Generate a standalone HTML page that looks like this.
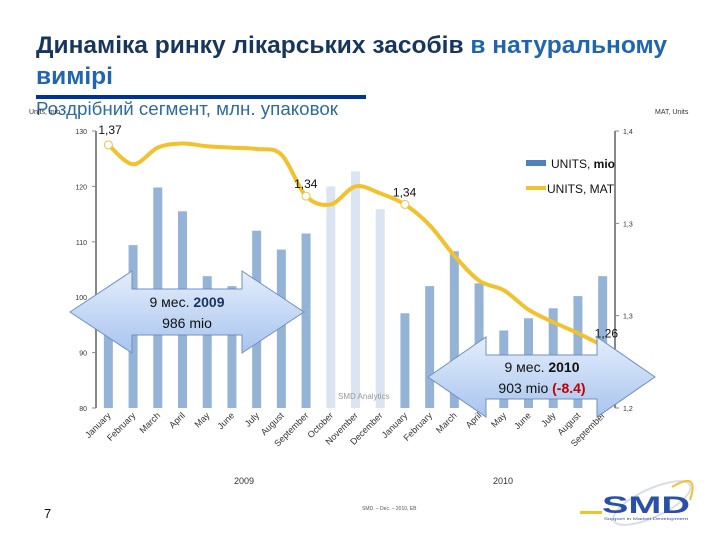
<!DOCTYPE html>
<html><head><meta charset="utf-8"><style>
body{margin:0;background:#fff;}
svg{display:block;font-family:"Liberation Sans","DejaVu Sans",sans-serif;}
</style></head><body>
<svg id="chart" width="720" height="540" viewBox="0 0 720 540">
<defs>
<linearGradient id="ag" x1="0" y1="0" x2="0" y2="1"><stop offset="0" stop-color="#e4eefc"/><stop offset="1" stop-color="#a8c4ee"/></linearGradient>
</defs>
<text x="36" y="53" font-size="24" font-weight="bold" fill="#17365d" textLength="631" lengthAdjust="spacingAndGlyphs">Динаміка ринку лікарських засобів <tspan fill="#1f65b0">в натуральному</tspan></text>
<text x="36" y="84" font-size="24" font-weight="bold" fill="#1f65b0" textLength="77" lengthAdjust="spacingAndGlyphs">вимірі</text>
<rect x="36" y="95" width="330" height="4" fill="#003399"/>
<text x="36" y="115" font-size="18" fill="#2e6c9c" textLength="302" lengthAdjust="spacingAndGlyphs">Роздрібний сегмент, млн. упаковок</text>
<text x="29" y="114" font-size="7" fill="#333">Units, mio</text>
<text x="655" y="114" font-size="7" fill="#333">MAT, Units</text>
<g id="plot"></g>
<text x="338" y="399" font-size="8" fill="#999">SMD Analytics</text>
<g>
<path d="M70,312 L132,271 L132,289 L242,289 L242,271 L304,312 L242,353 L242,335 L132,335 L132,353 Z" fill="url(#ag)" stroke="#6f8fc4" stroke-width="1"/>
<text x="187" y="307" font-size="14" text-anchor="middle" fill="#111">9 мес. <tspan font-weight="bold" fill="#17365d">2009</tspan></text>
<text x="187" y="328" font-size="14" text-anchor="middle" fill="#111">986 mio</text>
</g>
<g>
<path d="M428,377 L486,337 L486,355 L597,355 L597,337 L655,377 L597,417 L597,399 L486,399 L486,417 Z" fill="url(#ag)" stroke="#6f8fc4" stroke-width="1"/>
<text x="542" y="372" font-size="14" text-anchor="middle" fill="#111">9 мес. <tspan font-weight="bold">2010</tspan></text>
<text x="542" y="393" font-size="14" text-anchor="middle" fill="#111">903 mio <tspan font-weight="bold" fill="#c00000">(-8.4)</tspan></text>
</g>
<g>
<rect x="526" y="160" width="20" height="6" fill="#4f81bd"/>
<text x="551" y="168" font-size="12" fill="#111">UNITS, <tspan font-weight="bold">mio</tspan></text>
<rect x="526" y="186" width="20" height="4" fill="#f2c12e"/>
<text x="547" y="193" font-size="12" fill="#111">UNITS, MAT</text>
</g>
<text x="244" y="484" font-size="9" text-anchor="middle" fill="#333">2009</text>
<text x="503" y="484" font-size="9" text-anchor="middle" fill="#333">2010</text>
<text x="362" y="510" font-size="5" fill="#555">SMD. – Dec. – 2010, EB</text>
<text x="44" y="518" font-size="13" fill="#111">7</text>
<g>
<rect x="580" y="511" width="22" height="3" fill="#f2c12e"/>
<ellipse cx="652" cy="503" rx="42" ry="14" fill="none" stroke="#d8dde8" stroke-width="2" transform="rotate(-25 652 503)"/>
<path d="M672,487 Q700,470 690,500" fill="none" stroke="#f2c12e" stroke-width="2"/>
<text x="602" y="513" font-size="24" font-weight="bold" fill="#2a4fa6" textLength="88" lengthAdjust="spacingAndGlyphs">SMD</text>
<text x="604" y="520" font-size="4" fill="#2a4fa6" textLength="84" lengthAdjust="spacingAndGlyphs">Support in Market Development</text>
</g>
</svg>
<script>
const months = ["January","February","March","April","May","June","July","August","September","October","November","December","January","February","March","April","May","June","July","August","September"];
const unitsMio = [98,109.4,119.8,115.5,103.8,102,112,108.6,111.5,120,122.7,115.9,97.1,102,108.3,102.5,94,96.2,98,100.2,103.8];
const unitsMat = [1.390,1.376,1.388,1.391,1.389,1.388,1.387,1.383,1.353,1.347,1.360,1.355,1.347,1.332,1.310,1.292,1.285,1.271,1.262,1.254,1.245];
const leftTicks = [80,90,100,110,120,130];
const rightTicks = [1.2,1.2667,1.3333,1.4];
const rightTickLabels = ["1,2","1,3","1,3","1,4"];
const matLabelIdx = [0,8,12,20];
const matLabels = ["1,37","1,34","1,34","1,26"];

const NS="http://www.w3.org/2000/svg";
const g=document.getElementById('plot');
const X0=96,X1=615,YT=131,YB=408;
const step=(X1-X0)/months.length;
const xc=i=>X0+step*(i+0.5);
const yL=v=>YB-(v-80)/(130-80)*(YB-YT);
const yR=v=>YB-(v-1.2)/(1.4-1.2)*(YB-YT);
function mk(t,a){const e=document.createElementNS(NS,t);for(const k in a)e.setAttribute(k,a[k]);g.appendChild(e);return e;}

unitsMio.forEach((v,i)=>{
  const b=mk('rect',{x:xc(i)-4.5,y:yL(v),width:9,height:YB-yL(v),fill:(i>=9&&i<=11)?'#dbe4f1':'#95b3d7'});
  
  
});
let ax=mk('line',{x1:X0,y1:YT,x2:X0,y2:YB,stroke:'#888','stroke-width':2});


let ax2=mk('line',{x1:X1,y1:YT,x2:X1,y2:YB,stroke:'#888','stroke-width':2});


leftTicks.forEach(v=>{
  mk('line',{x1:X0-4,y1:yL(v),x2:X0,y2:yL(v),stroke:'#888'});
  const t=mk('text',{x:X0-9,y:yL(v)+3,'font-size':7,'text-anchor':'end',fill:'#333'});
  t.textContent=v;
  
  
});
rightTicks.forEach((v,i)=>{
  mk('line',{x1:X1,y1:yR(v),x2:X1+4,y2:yR(v),stroke:'#888'});
  const t=mk('text',{x:X1+8,y:yR(v)+3,'font-size':7,fill:'#333'});
  t.textContent=rightTickLabels[i];
  
  
});
months.forEach((m,i)=>{
  const x=xc(i)+3,y=YB+8;
  const t=mk('text',{x:x,y:y,'font-size':9,'text-anchor':'end',fill:'#333',transform:`rotate(-45 ${x} ${y})`});
  t.textContent=m;
  
  
});
const pts=unitsMat.map((v,i)=>[xc(i),yR(v)]);
let d=`M${pts[0][0]},${pts[0][1]}`;
for(let i=0;i<pts.length-1;i++){
  const p0=pts[Math.max(0,i-1)],p1=pts[i],p2=pts[i+1],p3=pts[Math.min(pts.length-1,i+2)];
  const c1=[p1[0]+(p2[0]-p0[0])/6,p1[1]+(p2[1]-p0[1])/6],c2=[p2[0]-(p3[0]-p1[0])/6,p2[1]-(p3[1]-p1[1])/6];
  d+=` C${c1[0]},${c1[1]} ${c2[0]},${c2[1]} ${p2[0]},${p2[1]}`;
}
const ln=mk('path',{d:d,fill:'none',stroke:'#f2c12e','stroke-width':4,'stroke-linecap':'round'});


matLabelIdx.forEach((idx,k)=>{
  const [x,y]=pts[idx];
  if(k<3){const c=mk('circle',{cx:x,cy:y,r:4,fill:'#fff',stroke:'#e8c64a','stroke-width':1});
  
  }
  const t=mk('text',{x:x+(k==0?-10:k==3?-8:-12),y:y-(k==0?11:8),'font-size':12,fill:'#111'});
  t.textContent=matLabels[k];
  
  
});
</script>
</body></html>
